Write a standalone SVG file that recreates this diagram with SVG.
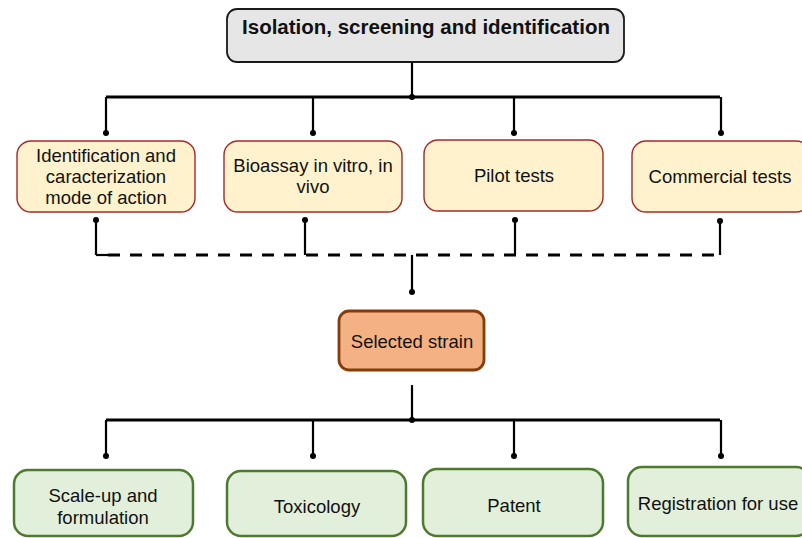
<svg xmlns="http://www.w3.org/2000/svg" width="802" height="538" viewBox="0 0 802 538">
<style>
text{font-family:"Liberation Sans",Arial,sans-serif;fill:#111;text-anchor:middle}
.t18{font-size:18.5px}
.top{font-size:20.5px;font-weight:bold}
.grey{fill:#e6e6e6;stroke:#1a1a1a;stroke-width:1.8}
.yel{fill:#fff2cc;stroke:#a8282a;stroke-width:1.4}
.org{fill:#f4b183;stroke:#843c0c;stroke-width:2.8}
.grn{fill:#e2efda;stroke:#4e7a2f;stroke-width:2.5}
.ln{stroke:#000;stroke-width:2.2;fill:none}
.bus{stroke:#000;stroke-width:2.8;fill:none}
.dash{stroke:#000;stroke-width:3;fill:none;stroke-dasharray:12 10}
.dot{fill:#000}
</style>
<rect width="802" height="538" fill="#fff"/>
<g id="connectors">
<path class="ln" d="M412 62V97"/>
<path class="bus" d="M106 97H720"/>
<path class="ln" d="M106 97V133M313 97V133M514 97V133M721 97V133"/>
<path class="ln" d="M96 220V255M305 220V255M515 220V255M720 220V255"/>
<path class="ln" d="M96 255H108"/>
<path class="dash" d="M108 255H720"/>
<path class="ln" d="M412 255V292"/>
<path class="ln" d="M412 385V420"/>
<path class="bus" d="M106 420H720"/>
<path class="ln" d="M106 420V456M313 420V456M514 420V456M721 420V456"/>
<circle class="dot" cx="412" cy="97" r="3"/>
<circle class="dot" cx="106" cy="133" r="3"/>
<circle class="dot" cx="313" cy="133" r="3"/>
<circle class="dot" cx="514" cy="133" r="3"/>
<circle class="dot" cx="721" cy="133" r="3"/>
<circle class="dot" cx="96" cy="220" r="3"/>
<circle class="dot" cx="305" cy="220" r="3"/>
<circle class="dot" cx="515" cy="220" r="3"/>
<circle class="dot" cx="720" cy="221" r="3"/>
<circle class="dot" cx="412" cy="292" r="3"/>
<circle class="dot" cx="412" cy="420" r="3"/>
<circle class="dot" cx="106" cy="456" r="3"/>
<circle class="dot" cx="313" cy="456" r="3"/>
<circle class="dot" cx="514" cy="456" r="3"/>
<circle class="dot" cx="721" cy="456" r="3"/>
</g>
<g id="isolation">
<rect class="grey" x="227" y="9" width="397" height="53" rx="10"/>
<text class="top" x="426" y="34">Isolation, screening and identification</text>
</g>
<g id="identification">
<rect class="yel" x="17" y="141" width="178" height="71" rx="14"/>
<text class="t18" x="106" y="162">Identification and</text>
<text class="t18" x="106" y="183">caracterization</text>
<text class="t18" x="106" y="204">mode of action</text>
</g>
<g id="bioassay">
<rect class="yel" x="224" y="141" width="178" height="71" rx="14"/>
<text class="t18" x="313" y="172">Bioassay in vitro, in</text>
<text class="t18" x="313" y="193">vivo</text>
</g>
<g id="pilot">
<rect class="yel" x="424" y="140" width="179" height="71" rx="14"/>
<text class="t18" x="514" y="182">Pilot tests</text>
</g>
<g id="commercial">
<rect class="yel" x="632" y="141" width="178" height="71" rx="14"/>
<text class="t18" x="720" y="183">Commercial tests</text>
</g>
<g id="selected">
<rect class="org" x="339" y="311" width="145" height="59" rx="10"/>
<text class="t18" x="412" y="348">Selected strain</text>
</g>
<g id="scaleup">
<rect class="grn" x="14" y="470" width="179" height="66" rx="14"/>
<text class="t18" x="103" y="502">Scale-up and</text>
<text class="t18" x="103" y="524">formulation</text>
</g>
<g id="toxicology">
<rect class="grn" x="227" y="471" width="179" height="65" rx="14"/>
<text class="t18" x="317" y="513">Toxicology</text>
</g>
<g id="patent">
<rect class="grn" x="423" y="469" width="180" height="67" rx="14"/>
<text class="t18" x="514" y="512">Patent</text>
</g>
<g id="registration">
<rect class="grn" x="628" y="467" width="182" height="69" rx="14"/>
<text class="t18" x="718" y="510">Registration for use</text>
</g>
</svg>
